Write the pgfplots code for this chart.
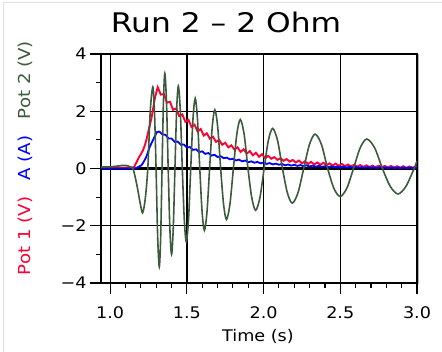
\documentclass[border=0pt]{standalone}
\usepackage{pgfplots}
\pgfplotsset{compat=1.18}
\usepackage{fontspec}
\setmainfont{DejaVu Sans}[FakeStretch=1.1]
\newfontfamily\titlefont{DejaVu Sans}[FakeStretch=1.16]
\definecolor{potred}{RGB}{255,0,51}
\definecolor{potblue}{RGB}{0,0,255}
\definecolor{potgreen}{RGB}{60,90,60}
\begin{document}
\begin{tikzpicture}
\path[use as bounding box] (0,0) rectangle (442pt,352pt);
\draw[gray!25, line width=1pt] (3pt,0) -- (3pt,349pt) -- (442pt,349pt);
\draw[gray!60, line width=1.6pt] (418.6pt,68pt) -- (418.6pt,298pt);
\begin{axis}[
 at={(101pt,69pt)}, anchor=south west,
 scale only axis, width=316pt, height=229pt,
 xmin=0.94, xmax=3.0, ymin=-4, ymax=4,
 xtick={1,1.5,2,2.5,3}, xticklabels={1.0,1.5,2.0,2.5,3.0},
 ytick={-4,-2,0,2,4}, yticklabels={−4,−2,0,2,4},
 minor x tick num=4, minor y tick num=1,
 tick align=outside, tick pos=left,
 major tick length=11pt, minor tick length=5pt,
 every tick/.style={black, line width=1.1pt},
 grid=major, major grid style={black, line width=1.2pt},
 axis line style={black, line width=2pt},
 tick label style={font=\fontsize{16}{16}\selectfont},
 xticklabel style={yshift=-9pt},
 clip=true,
]
\addplot[black, line width=2.6pt] coordinates {(0.94,0) (3,0)};
% Pot 1 (V)
\addplot[potred, line width=1.9pt] coordinates {
(0.94,0.03) (1.0,0.03) (1.1,0.03) (1.155,0.04) (1.17,0.2) (1.19,0.42) (1.20,0.5) (1.213,0.63) (1.225,0.8) (1.235,0.98) (1.245,1.2) (1.252,1.38) (1.268,1.73) (1.28,2.1) (1.29,2.42) (1.30,2.65)
(1.31,2.84) (1.33,2.58) (1.35,2.60) (1.37,2.30) (1.39,2.33) (1.41,2.05) (1.43,2.10) (1.45,1.83) (1.47,1.89) (1.49,1.63)
(1.51,1.70) (1.53,1.45) (1.55,1.53) (1.57,1.29) (1.59,1.38) (1.61,1.15) (1.63,1.23) (1.65,1.04) (1.67,1.11) (1.69,0.93)
(1.71,1.00) (1.73,0.83) (1.75,0.90) (1.77,0.74) (1.79,0.81) (1.81,0.66) (1.83,0.74) (1.85,0.58) (1.87,0.67) (1.89,0.52)
(1.91,0.61) (1.93,0.46) (1.95,0.55) (1.97,0.41) (1.99,0.50) (2.01,0.36) (2.03,0.44) (2.05,0.34) (2.07,0.40) (2.09,0.30)
(2.11,0.36) (2.13,0.27) (2.15,0.33) (2.17,0.24) (2.19,0.30) (2.21,0.21) (2.23,0.28) (2.25,0.18) (2.27,0.25) (2.29,0.16)
(2.31,0.23) (2.33,0.14) (2.35,0.21) (2.37,0.13) (2.39,0.20) (2.41,0.11) (2.43,0.18) (2.45,0.10) (2.47,0.17) (2.49,0.09)
(2.51,0.16) (2.53,0.08) (2.55,0.14) (2.57,0.07) (2.59,0.13) (2.61,0.06) (2.63,0.12) (2.65,0.05) (2.67,0.11) (2.69,0.05)
(2.71,0.10) (2.73,0.04) (2.75,0.10) (2.77,0.04) (2.79,0.09) (2.81,0.03) (2.83,0.09) (2.85,0.03) (2.87,0.08) (2.89,0.02)
(2.91,0.08) (2.93,0.02) (2.95,0.07) (2.97,0.02) (2.99,0.07) (3.00,0.05)
};
% A (A)
\addplot[potblue, line width=1.8pt] coordinates {
(0.94,0.0) (1.16,0.0) (1.17,0.02) (1.185,0.06) (1.203,0.11) (1.215,0.2) (1.225,0.3) (1.235,0.4) (1.245,0.55) (1.257,0.75) (1.268,0.87) (1.278,0.98) (1.29,1.12) (1.304,1.27)
(1.32,1.29) (1.34,1.19) (1.36,1.18) (1.38,1.05) (1.40,1.05) (1.42,0.93) (1.44,0.94) (1.46,0.83) (1.48,0.84) (1.50,0.73)
(1.52,0.75) (1.54,0.65) (1.56,0.67) (1.58,0.57) (1.60,0.60) (1.62,0.51) (1.64,0.54) (1.66,0.45) (1.68,0.48) (1.70,0.40)
(1.72,0.43) (1.74,0.36) (1.76,0.38) (1.78,0.32) (1.80,0.34) (1.82,0.28) (1.84,0.31) (1.86,0.25) (1.88,0.28) (1.90,0.22)
(1.92,0.25) (1.94,0.20) (1.96,0.23) (1.98,0.18) (2.00,0.21) (2.02,0.16) (2.04,0.19) (2.06,0.14) (2.08,0.17) (2.10,0.13)
(2.12,0.16) (2.14,0.11) (2.16,0.14) (2.18,0.10) (2.20,0.13) (2.22,0.09) (2.24,0.12) (2.26,0.08) (2.28,0.11) (2.30,0.07)
(2.32,0.10) (2.34,0.065) (2.36,0.09) (2.38,0.06) (2.40,0.08) (2.42,0.05) (2.44,0.075) (2.46,0.045) (2.48,0.07) (2.50,0.04)
(2.52,0.065) (2.54,0.035) (2.56,0.06) (2.58,0.03) (2.60,0.055) (2.62,0.03) (2.64,0.05) (2.66,0.025) (2.68,0.05) (2.70,0.025)
(2.72,0.045) (2.74,0.02) (2.76,0.045) (2.78,0.02) (2.80,0.04) (2.82,0.02) (2.84,0.04) (2.86,0.015) (2.88,0.04) (2.90,0.015)
(2.92,0.035) (2.94,0.015) (2.96,0.035) (2.98,0.015) (3.00,0.03)
};
% Pot 2 (V)
\addplot[potgreen, line width=1.6pt, smooth] coordinates {
(0.94,0.05) (1.0,0.06) (1.04,0.08) (1.08,0.11) (1.11,0.1) (1.13,0.06) (1.148,0.0) (1.165,-0.35) (1.18,-0.75) (1.195,-1.2)
(1.211,-1.55) (1.228,-1.08) (1.245,0) (1.261,2.0)
(1.278,2.85) (1.2885,2.0) (1.299,0) (1.3095,-2.4)
(1.320,-3.43) (1.329,-2.4) (1.338,0) (1.347,2.32)
(1.356,3.32) (1.367,2.32) (1.378,0) (1.389,-2.1)
(1.400,-3.00) (1.411,-2.1) (1.422,0) (1.433,2.02)
(1.444,2.88) (1.457,2.02) (1.470,0) (1.483,-1.79)
(1.496,-2.56) (1.5105,-1.79) (1.525,0) (1.5395,1.72)
(1.554,2.45) (1.569,1.72) (1.584,0) (1.599,-1.51)
(1.614,-2.16) (1.631,-1.51) (1.648,0) (1.665,1.44)
(1.682,2.05) (1.701,1.44) (1.720,0) (1.739,-1.25)
(1.758,-1.78) (1.7805,-1.25) (1.803,0) (1.8255,1.20)
(1.848,1.71) (1.873,1.20) (1.898,0) (1.923,-1.02)
(1.948,-1.46) (1.976,-1.02) (2.0035,0) (2.031,0.98)
(2.059,1.40) (2.091,0.98) (2.123,0) (2.155,-0.85)
(2.187,-1.21) (2.224,-0.85) (2.2615,0) (2.299,0.84)
(2.336,1.20) (2.377,0.84) (2.4175,0) (2.458,-0.69)
(2.499,-0.98) (2.5425,-0.69) (2.586,0) (2.6295,0.72)
(2.673,1.03) (2.724,0.72) (2.7745,0) (2.825,-0.62)
(2.876,-0.89) (2.9285,-0.62) (2.981,0) (3.0,0.26)
};
\end{axis}
\node[anchor=base, font=\titlefont\fontsize{27}{27}\selectfont] at (226pt,319pt) {Run 2 – 2 Ohm};
\node[anchor=base, font=\fontsize{16}{16}\selectfont] at (258pt,10pt) {Time (s)};
\node[rotate=90, font=\fontsize{16.5}{16.5}\selectfont] at (25pt,194pt) {\textcolor{potred}{Pot 1 (V)}\quad\textcolor{potblue}{A (A)}\quad\textcolor{potgreen}{Pot 2 (V)}};
\end{tikzpicture}
\end{document}
